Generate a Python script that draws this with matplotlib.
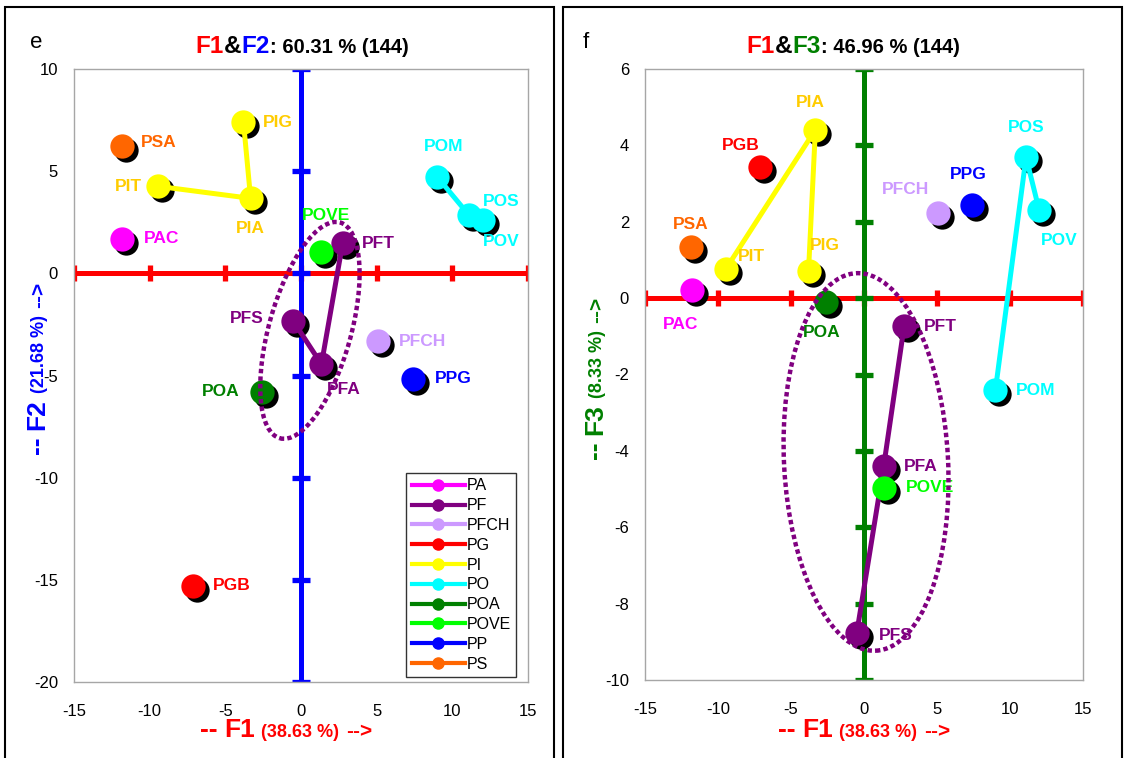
import matplotlib
matplotlib.use("Agg")
import matplotlib.pyplot as plt
from matplotlib.patches import Ellipse, Rectangle
from matplotlib.transforms import ScaledTranslation
from matplotlib.lines import Line2D

plt.rcParams["font.family"] = ["Liberation Sans", "DejaVu Sans"]
plt.rcParams["axes.unicode_minus"] = False

# ---- data: factor scores of each sample -------------------------------
samples = ["PAC", "PFS", "PFA", "PFT", "PFCH", "PGB", "PIT", "PIA", "PIG",
           "POM", "POS", "POV", "POA", "POVE", "PPG", "PSA"]
groups = ["PA", "PF", "PF", "PF", "PFCH", "PG", "PI", "PI", "PI",
          "PO", "PO", "PO", "POA", "POVE", "PP", "PS"]
f1 = [-11.8, -0.5, 1.35, 2.75, 5.1, -7.15, -9.45, -3.33, -3.8,
      9.0, 11.1, 12.0, -2.6, 1.35, 7.43, -11.85]
f2 = [1.7, -2.35, -4.45, 1.47, -3.33, -15.3, 4.26, 3.67, 7.39,
      4.72, 2.85, 2.62, -5.8, 1.03, -5.15, 6.25]
f3 = [0.2, -8.78, -4.4, -0.73, 2.23, 3.44, 0.77, 4.41, 0.71,
      -2.41, 3.69, 2.3, -0.1, -4.97, 2.44, 1.33]

legend_groups = ["PA", "PF", "PFCH", "PG", "PI", "PO", "POA", "POVE", "PP", "PS"]
group_colors = ["#FF00FF", "#800080", "#CC99FF", "#FF0000", "#FFFF00",
                "#00FFFF", "#008000", "#00FF00", "#0000FF", "#FF6600"]
label_colors = ["#FF00FF", "#800080", "#CC99FF", "#FF0000", "#FFCC00",
                "#00FFFF", "#008000", "#00FF00", "#0000FF", "#FF6600"]

inertia_f1, inertia_f2, inertia_f3 = "38.63", "21.68", "8.33"
plane_f1f2, plane_f1f3, n_obs = "60.31", "46.96", "144"

# ---- layout / style ---------------------------------------------------
W, H = 1126, 758
fig = plt.figure(figsize=(W / 100, H / 100), dpi=100)
renderer = fig.canvas.get_renderer()

# sample-label offsets in pixels (dx, dy, ha) per panel
offs_e = {"PSA": (19, 3, "left"), "PIG": (19, 0, "left"), "PIT": (-16, 0, "right"),
          "PIA": (0, -30, "center"), "PAC": (21, 0, "left"), "POM": (6, 30, "center"),
          "POS": (14, 14, "left"), "POV": (0, -22, "left"), "POVE": (5, 37, "center"),
          "PFT": (19, 0, "left"), "PFS": (-30, 3, "right"), "PFA": (5, -25, "left"),
          "PFCH": (21, 0, "left"), "PPG": (21, 0, "left"), "POA": (-22, 0, "right"),
          "PGB": (20, 0, "left")}
offs_f = {"PIA": (-5, 27, "center"), "PGB": (-19, 21, "center"), "PSA": (0, 23, "center"),
          "PIT": (12, 12, "left"), "PIG": (16, 26, "center"), "PAC": (-11, -34, "center"),
          "POA": (-4, -31, "center"), "PFT": (20, 0, "left"), "PFCH": (-33, 23, "center"),
          "PPG": (-4, 30, "center"), "POS": (0, 30, "center"), "POV": (20, -30, "center"),
          "POM": (20, 0, "left"), "PFA": (20, 0, "left"), "POVE": (22, 0, "left"),
          "PFS": (22, -2, "left")}


def px_axes(l, r, t, b):
    return fig.add_axes([l / W, 1 - b / H, (r - l) / W, (b - t) / H])


def panel(ax, xs, ys, xlim, ylim, xticks, yticks, vcolor, offs, ell):
    ax.set_xlim(xlim)
    ax.set_ylim(ylim)
    ax.set_xticks(xticks)
    ax.set_yticks(yticks)
    ax.set_xticklabels([str(v) for v in xticks])
    ax.set_yticklabels([str(v) for v in yticks])
    ax.tick_params(axis="x", length=0, labelsize=12, pad=16)
    ax.tick_params(axis="y", length=0, labelsize=12, pad=11.5)
    for s in ax.spines.values():
        s.set_color("#A6A6A6")
        s.set_linewidth(1)

    # axes through the origin with cross ticks
    ax.plot(xlim, [0, 0], color="#FF0000", lw=3.6, solid_capstyle="round", zorder=2)
    ax.plot(xticks, [0] * len(xticks), ls="none", marker="|", ms=12, mew=3.8,
            color="#FF0000", zorder=2)
    ax.plot([0, 0], ylim, color=vcolor, lw=3.6, solid_capstyle="round", zorder=2)
    ax.plot([0] * len(yticks), yticks, ls="none", marker="_", ms=13, mew=3.8,
            color=vcolor, zorder=2)

    shadow = ax.transData + ScaledTranslation(0.04, -0.04, fig.dpi_scale_trans)
    ax.plot(xs, ys, ls="none", marker="o", ms=17.5, color="black", mew=0,
            transform=shadow, zorder=3)

    for g, c in zip(legend_groups, group_colors):
        idx = [i for i, gg in enumerate(groups) if gg == g]
        gx = [xs[i] for i in idx]
        gy = [ys[i] for i in idx]
        ax.plot(gx, gy, color=c, lw=3.6, zorder=4)
        ax.plot(gx, gy, ls="none", marker="o", ms=17.5, mew=0, color=c, zorder=5)

    for i, name in enumerate(samples):
        dx, dy, ha = offs[name]
        col = label_colors[legend_groups.index(groups[i])]
        ax.annotate(name, (xs[i], ys[i]), xytext=(dx * 0.72, dy * 0.72),
                    textcoords="offset points", ha=ha, va="center",
                    color=col, fontsize=12.5, fontweight="bold", zorder=6)

    (cx, cy), wpx, hpx, ang = ell
    e = Ellipse((0, 0), wpx / 100, hpx / 100, angle=ang, fill=False,
                edgecolor="#800080", lw=3.2, linestyle=(0, (1, 0.7)),
                transform=fig.dpi_scale_trans + ScaledTranslation(cx, cy, ax.transData),
                zorder=7, clip_on=False)
    ax.add_patch(e)


def rich(x, y, parts, vertical=False):
    """Draw a run of differently styled text pieces centred at pixel (x, y)."""
    widths = []
    for s, p, gap in parts:
        t = fig.text(0, 0, s, **p)
        widths.append(t.get_window_extent(renderer).width + gap)
        t.remove()
    off = -sum(widths) / 2
    for (s, p, gap), w in zip(parts, widths):
        if vertical:
            fig.text(x / W, 1 - (y - off) / H, s, rotation=90, rotation_mode="anchor",
                     ha="left", va="baseline", **p)
        else:
            fig.text((x + off) / W, 1 - y / H, s, ha="left", va="baseline", **p)
        off += w


def bold(color, size):
    return dict(color=color, fontsize=size, fontweight="bold")


axL = px_axes(74, 528, 69, 682)
axR = px_axes(645, 1083, 69, 680)

panel(axL, f1, f2, (-15, 15), (-20, 10), list(range(-15, 16, 5)),
      list(range(-20, 11, 5)), "#0000FF", offs_e,
      ((0.59, -2.79), 82, 224, -15.6))
panel(axR, f1, f3, (-15, 15), (-10, 6), list(range(-15, 16, 5)),
      list(range(-10, 7, 2)), "#008000", offs_f,
      ((0.14, -4.29), 164, 378, 3))

# legend
handles = [Line2D([], [], color=c, lw=3, marker="o", ms=8) for c in group_colors]
leg = axL.legend(handles, legend_groups, loc="lower right",
                 bbox_to_anchor=(0.974, 0.008), fontsize=11.5, frameon=True,
                 fancybox=False, edgecolor="black", handlelength=3.3,
                 handletextpad=0.1, labelspacing=0.3, borderpad=0.35,
                 borderaxespad=0)
leg.get_frame().set_linewidth(1)
leg.set_zorder(10)

# titles
rich(302, 53, [("F1", bold("#FF0000", 17.5), 0), ("&", bold("black", 17.5), 0),
               ("F2", bold("#0000FF", 17.5), 0),
               (": " + plane_f1f2 + " % (" + n_obs + ")", bold("black", 14.5), 0)])
rich(853, 53, [("F1", bold("#FF0000", 17.5), 0), ("&", bold("black", 17.5), 0),
               ("F3", bold("#008000", 17.5), 0),
               (": " + plane_f1f3 + " % (" + n_obs + ")", bold("black", 14.5), 0)])

# axis titles
for cx in (286, 864):
    rich(cx, 737, [("--", bold("#FF0000", 19), 7), ("F1", bold("#FF0000", 19), 6),
                   ("(" + inertia_f1 + " %)", bold("#FF0000", 13), 7),
                   ("-->", bold("#FF0000", 15), 0)])
rich(44, 368, [("--", bold("#0000FF", 19), 7), ("F2", bold("#0000FF", 19), 6),
               ("(" + inertia_f2 + " %)", bold("#0000FF", 13), 7),
               ("-->", bold("#0000FF", 15), 0)], vertical=True)
rich(602, 378, [("--", bold("#008000", 19), 7), ("F3", bold("#008000", 19), 6),
                ("(" + inertia_f3 + " %)", bold("#008000", 13), 7),
                ("-->", bold("#008000", 15), 0)], vertical=True)

# panel letters and frames
fig.text(30 / W, 1 - 48 / H, "e", fontsize=16, color="black")
fig.text(583 / W, 1 - 48 / H, "f", fontsize=16, color="black")
for l, r in ((5, 554), (563, 1122)):
    fig.add_artist(Rectangle((l / W, -0.05), (r - l) / W, 1.05 - 7 / H,
                             transform=fig.transFigure, fill=False,
                             edgecolor="black", lw=1.5))

fig.savefig("out.png", dpi=100)
